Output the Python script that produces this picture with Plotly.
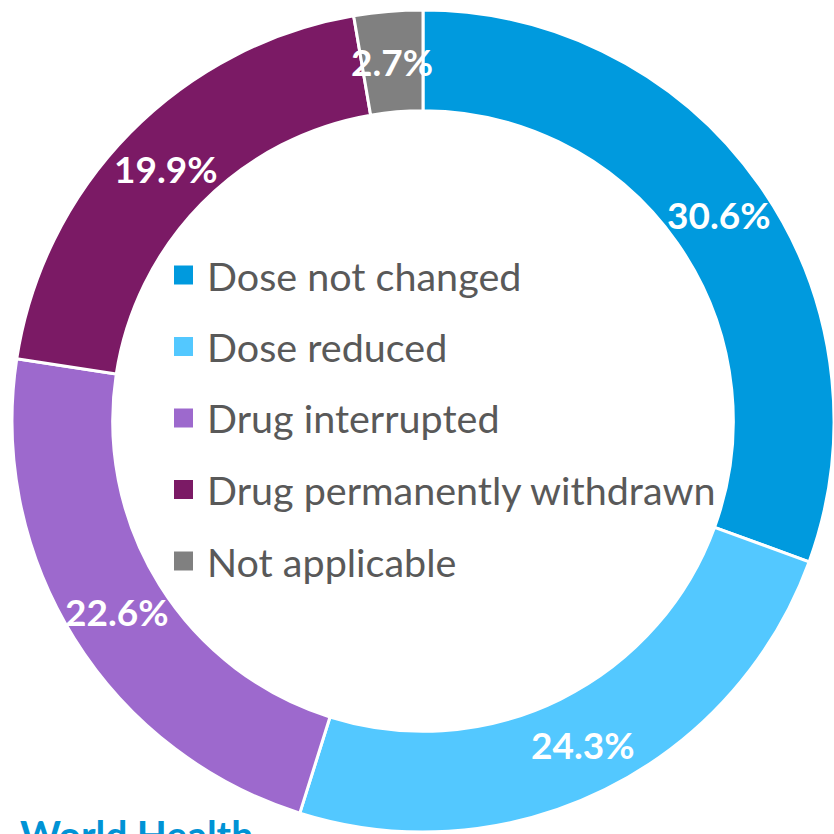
import math
import plotly.graph_objects as go

# Outcome of the suspected drug after the adverse event (% of reports)
categories = [
    "Dose not changed",
    "Dose reduced",
    "Drug interrupted",
    "Drug permanently withdrawn",
    "Not applicable",
]
shares = [30.6, 24.3, 22.6, 19.9, 2.7]
colors = ["#009ADE", "#53C8FF", "#9D69CD", "#7B1A65", "#808080"]

FIG_W, FIG_H = 834, 834
M_L, M_T, M_R, M_B = 12, 8, 0, 0
PLOT_W = FIG_W - M_L - M_R
PLOT_H = FIG_H - M_T - M_B
HOLE = 0.755


def px_x(px):
    return (px - M_L) / PLOT_W


def px_y(py):
    return (FIG_H - M_B - py) / PLOT_H


fig = go.Figure(
    go.Pie(
        labels=categories,
        values=shares,
        marker=dict(colors=colors, line=dict(color="white", width=3)),
        hole=HOLE,
        sort=False,
        direction="clockwise",
        rotation=0,
        textinfo="none",
        showlegend=False,
        hoverinfo="label+value",
    )
)

# Ring geometry (pie fills the smaller side of the plot area)
radius = min(PLOT_W, PLOT_H) / 2
cx = M_L + PLOT_W / 2
cy = M_T + PLOT_H / 2
mid_r = radius * (1 + HOLE) / 2

annotations = []

# Percentage labels at the middle of each segment
total = sum(shares)
cum = 0.0
for v in shares:
    ang = 2 * math.pi * (cum + v / 2) / total
    cum += v
    lx = cx + mid_r * math.sin(ang)
    ly = cy - mid_r * math.cos(ang)
    annotations.append(
        dict(
            text=f"{v}%",
            xref="paper",
            yref="paper",
            x=px_x(lx),
            y=px_y(ly),
            xanchor="center",
            yanchor="middle",
            showarrow=False,
            font=dict(family="Lato", size=37, color="white", weight="bold"),
        )
    )

# Legend block in the middle of the ring
legend_font = dict(family="Lato", size=39.5, color="#595959")
row_top = 275
row_step = 71.5
box = 19
shapes = []
for i, (name, col) in enumerate(zip(categories, colors)):
    ry = row_top + i * row_step
    shapes.append(
        dict(
            type="rect",
            xref="paper",
            yref="paper",
            x0=px_x(174),
            x1=px_x(174 + box),
            y0=px_y(ry + box / 2),
            y1=px_y(ry - box / 2),
            fillcolor=col,
            line=dict(width=0),
        )
    )
    annotations.append(
        dict(
            text=name,
            xref="paper",
            yref="paper",
            x=px_x(205),
            y=px_y(ry),
            xanchor="left",
            yanchor="middle",
            showarrow=False,
            font=legend_font,
        )
    )

# Organisation name running off the bottom edge
annotations.append(
    dict(
        text="<b>World Health</b>",
        xref="paper",
        yref="paper",
        x=px_x(18),
        y=px_y(809),
        xanchor="left",
        yanchor="top",
        showarrow=False,
        font=dict(family="Lato", size=39, color="#0093D5"),
    )
)

fig.update_layout(
    width=FIG_W,
    height=FIG_H,
    margin=dict(l=M_L, r=M_R, t=M_T, b=M_B, pad=0),
    paper_bgcolor="white",
    plot_bgcolor="white",
    shapes=shapes,
    annotations=annotations,
)

fig.write_html("out.html")
